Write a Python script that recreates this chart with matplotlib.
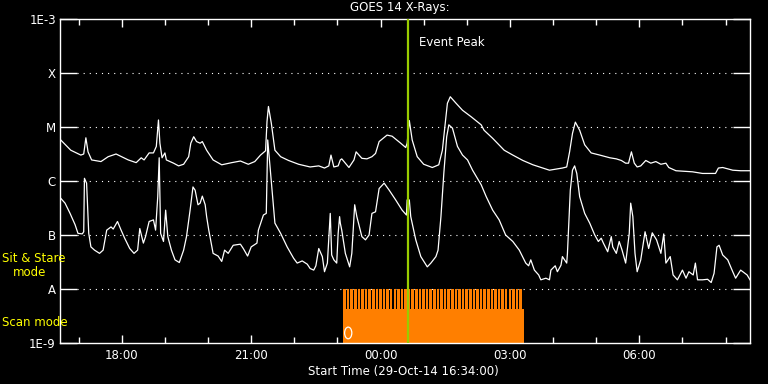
import numpy as np
import matplotlib.pyplot as plt
import matplotlib.transforms as mtransforms
from matplotlib.patches import Ellipse

# time axis: minutes after 29-Oct-14 16:34:00
start_label = "Start Time (29-Oct-14 16:34:00)"
start_clock = 16 * 60 + 34
span_min = 960

# GOES 14 long channel (1-8 A), log10 W/m^2
long_min = [1, 15, 29, 33, 36, 39, 44, 57, 67, 78,
            95, 106, 113, 117, 124, 130, 134, 137, 139, 142,
            146, 148, 158, 165, 172, 179, 182, 186, 190, 195,
            198, 204, 213, 225, 239, 251, 262, 271, 279, 286,
            288, 290, 294, 299, 307, 318, 332, 348, 360, 368,
            374, 377, 381, 387, 390, 392, 402, 409, 412, 420,
            427, 434, 439, 444, 455, 462, 474, 481, 483, 486,
            490, 497, 506, 518, 527, 532, 536, 539, 543, 551,
            560, 572, 586, 590, 602, 618, 630, 644, 658, 681,
            699, 705, 709, 713, 717, 723, 730, 739, 751, 765,
            774, 781, 787, 791, 795, 799, 803, 808, 815, 822,
            829, 836, 843, 847, 857, 880, 894, 912, 916, 922,
            936, 947, 960]
long_log = [-5.24, -5.43, -5.52, -5.50, -5.20, -5.46, -5.61, -5.64, -5.55, -5.50,
            -5.61, -5.66, -5.57, -5.61, -5.48, -5.48, -5.36, -4.87, -5.30, -5.57,
            -5.48, -5.61, -5.67, -5.72, -5.69, -5.55, -5.30, -5.18, -5.27, -5.30,
            -5.27, -5.43, -5.61, -5.70, -5.66, -5.63, -5.69, -5.64, -5.52, -5.44,
            -4.90, -4.62, -4.93, -5.43, -5.55, -5.62, -5.69, -5.74, -5.72, -5.76,
            -5.72, -5.52, -5.74, -5.72, -5.61, -5.59, -5.75, -5.61, -5.46, -5.58,
            -5.59, -5.55, -5.49, -5.27, -5.15, -5.17, -5.30, -5.38, -5.30, -4.88,
            -5.24, -5.55, -5.69, -5.75, -5.70, -5.43, -4.93, -4.56, -4.44, -4.56,
            -4.69, -4.81, -4.96, -5.06, -5.21, -5.43, -5.52, -5.62, -5.70, -5.80,
            -5.76, -5.74, -5.46, -5.12, -4.91, -5.06, -5.33, -5.48, -5.52, -5.57,
            -5.59, -5.62, -5.67, -5.67, -5.46, -5.67, -5.74, -5.72, -5.62, -5.67,
            -5.64, -5.69, -5.67, -5.75, -5.81, -5.83, -5.86, -5.86, -5.76, -5.75,
            -5.80, -5.81, -5.81]

# GOES 14 short channel (0.5-4 A), log10 W/m^2
short_min = [1, 7, 14, 21, 25, 31, 33, 34, 37, 40,
             43, 48, 55, 60, 65, 71, 74, 80, 85, 90,
             97, 103, 108, 111, 116, 119, 124, 130, 133, 136,
             138, 140, 144, 147, 150, 155, 160, 166, 172, 176,
             181, 185, 188, 192, 195, 198, 202, 204, 207, 213,
             220, 225, 229, 234, 241, 251, 255, 261, 266, 274,
             276, 283, 287, 289, 293, 299, 307, 316, 325, 330,
             337, 344, 348, 353, 356, 360, 365, 368, 372, 376,
             378, 381, 385, 387, 389, 390, 392, 397, 403, 406,
             410, 413, 420, 425, 430, 434, 439, 444, 451, 458,
             467, 476, 482, 483, 486, 488, 495, 502, 511, 516,
             523, 526, 530, 534, 538, 541, 546, 553, 560, 567,
             574, 586, 593, 602, 611, 620, 630, 639, 648, 652,
             655, 660, 666, 669, 676, 681, 683, 689, 692, 697,
             699, 705, 706, 710, 713, 716, 719, 723, 730, 737,
             744, 749, 753, 756, 762, 767, 769, 774, 778, 782,
             787, 792, 794, 797, 800, 803, 808, 814, 819, 824,
             830, 836, 840, 843, 849, 853, 859, 866, 871, 875,
             881, 884, 887, 894, 901, 906, 910, 914, 917, 922,
             929, 936, 940, 947, 952, 956, 960]
short_log = [-6.32, -6.41, -6.60, -6.81, -6.97, -6.98, -6.94, -5.95, -6.04, -6.97,
             -7.22, -7.28, -7.34, -7.28, -6.91, -6.85, -6.89, -6.75, -6.91, -7.06,
             -7.25, -7.34, -7.28, -6.88, -7.15, -7.03, -6.75, -6.72, -6.91, -6.29,
             -5.57, -6.97, -7.12, -6.54, -7.03, -7.28, -7.46, -7.51, -7.28, -7.03,
             -6.54, -6.11, -6.17, -6.44, -6.41, -6.28, -6.44, -6.66, -6.91, -7.34,
             -7.39, -7.49, -7.28, -7.34, -7.19, -7.17, -7.25, -7.39, -7.22, -7.15,
             -6.91, -6.63, -6.60, -5.24, -5.86, -6.78, -6.97, -7.22, -7.43, -7.52,
             -7.48, -7.54, -7.62, -7.65, -7.57, -7.25, -7.40, -7.68, -7.52, -6.60,
             -7.37, -7.46, -7.52, -6.97, -6.66, -6.78, -6.91, -7.34, -7.59, -7.34,
             -6.44, -6.66, -7.03, -7.09, -7.00, -6.60, -6.57, -6.14, -6.04, -6.17,
             -6.35, -6.54, -6.63, -6.35, -6.35, -6.66, -7.09, -7.40, -7.59, -7.52,
             -7.40, -7.28, -6.66, -5.86, -5.18, -4.96, -5.02, -5.36, -5.52, -5.61,
             -5.80, -6.07, -6.29, -6.54, -6.72, -7.00, -7.12, -7.28, -7.52, -7.57,
             -7.46, -7.65, -7.74, -7.83, -7.80, -7.83, -7.65, -7.57, -7.68, -7.56,
             -7.40, -7.52, -7.34, -6.17, -5.80, -5.72, -5.86, -6.29, -6.60, -6.78,
             -7.00, -7.12, -7.06, -7.15, -7.31, -7.03, -7.22, -7.34, -7.12, -7.28,
             -7.52, -6.97, -6.41, -6.66, -7.34, -7.68, -7.46, -6.94, -7.25, -6.96,
             -7.09, -7.34, -6.98, -7.52, -7.40, -7.74, -7.83, -7.65, -7.80, -7.68,
             -7.74, -7.52, -7.83, -7.83, -7.82, -7.88, -7.71, -7.22, -7.19, -7.37,
             -7.46, -7.68, -7.80, -7.65, -7.70, -7.74, -7.83]

# event / observation timing (minutes after start)
event_peak_min = 484
scan_begin, scan_end = 394, 645
scan_starts = [394, 399, 404, 409, 414, 419, 424, 429, 434, 439,
               444, 449, 454, 459, 464, 469, 474, 479, 484, 489,
               494, 499, 504, 509, 514, 519, 524, 529, 534, 539,
               544, 549, 554, 559, 564, 569, 574, 579, 584, 589,
               594, 599, 604, 609, 614, 619, 624, 629, 634, 639]
scan_len = 3.6
scan_floor_log = -8.37   # solid part of the scan band

# GOES classes
class_vals = [1e-9, 1e-8, 1e-7, 1e-6, 1e-5, 1e-4, 1e-3]
class_labels = ["1E-9", "A", "B", "C", "M", "X", "1E-3"]
major_hours = [18, 21, 24, 27, 30]
major_labels = ["18:00", "21:00", "00:00", "03:00", "06:00"]
minor_hours = list(range(17, 33))

FS = 8.5
plt.rcParams['font.family'] = ['DejaVu Sans']

fig = plt.figure(figsize=(7.68, 3.84), dpi=100, facecolor='black')
ax = fig.add_axes([60 / 768, 1 - 343 / 384, 690 / 768, 324 / 384])
ax.set_facecolor('black')
ax.set_yscale('log')
ax.set_xlim(0, span_min)
ax.set_ylim(1e-9, 1e-3)

for s in ax.spines.values():
    s.set_color('white')
    s.set_linewidth(1.0)

# scan-mode band
ax.bar(scan_begin, 10 ** scan_floor_log - 1e-9, width=scan_end - scan_begin,
       bottom=1e-9, align='edge', color='#ff7f00', linewidth=0, zorder=2)
ax.bar(scan_starts, [1e-8 - 1e-9] * len(scan_starts), width=scan_len,
       bottom=1e-9, align='edge', color='#ff7f00', linewidth=0, zorder=2)

# dotted class levels
for v in class_vals[1:-1]:
    ax.axhline(v, xmin=0.025, xmax=0.975, color='white', linewidth=0.8,
               linestyle=(0, (1.0, 4.5)), zorder=1)

ax.plot(long_min, 10 ** np.array(long_log), color='white', linewidth=0.9, zorder=3)
ax.plot(short_min, 10 ** np.array(short_log), color='white', linewidth=0.9, zorder=3)

ax.axvline(event_peak_min, color='#99cc00', linewidth=1.6, zorder=4)
ax.annotate("Event Peak", xy=(event_peak_min, 0.926),
            xycoords=('data', 'axes fraction'), xytext=(8, 0),
            textcoords='offset points', color='white', fontsize=FS, va='center')

trans = mtransforms.blended_transform_factory(ax.transData, ax.transAxes)
ax.add_patch(Ellipse((scan_begin + 7, 0.031), width=10, height=0.036,
                     transform=trans, fill=False, edgecolor='white',
                     linewidth=0.9, zorder=5))

# ticks
ax.set_yticks(class_vals)
ax.set_yticklabels(class_labels)
ax.yaxis.set_minor_locator(plt.NullLocator())
ax.tick_params(axis='y', which='major', direction='in', length=12.2, width=1,
               colors='white', labelsize=FS, left=True, right=True, pad=3)

ax.set_xticks([h * 60 - start_clock for h in major_hours])
ax.set_xticklabels(major_labels)
ax.set_xticks([h * 60 - start_clock for h in minor_hours], minor=True)
ax.tick_params(axis='x', which='major', direction='in', length=6, width=1,
               colors='white', labelsize=FS, top=True, bottom=True, pad=4)
ax.tick_params(axis='x', which='minor', direction='in', length=4, width=1,
               colors='white', top=True, bottom=True)

fig.text(0.521, 1 - 8 / 384, "GOES 14 X-Rays:", color='white', fontsize=FS,
         ha='center', va='center')
fig.text(0.525, 1 - 371 / 384, start_label, color='white', fontsize=FS,
         ha='center', va='center')
fig.text(2 / 768, 1 - 258 / 384, "Sit & Stare", color='#ffff00', fontsize=FS,
         ha='left', va='center')
fig.text(13 / 768, 1 - 272 / 384, "mode", color='#ffff00', fontsize=FS,
         ha='left', va='center')
fig.text(2 / 768, 1 - 323 / 384, "Scan mode", color='#ffff00', fontsize=FS,
         ha='left', va='center')

fig.savefig('out.png', dpi=100, facecolor='black')
